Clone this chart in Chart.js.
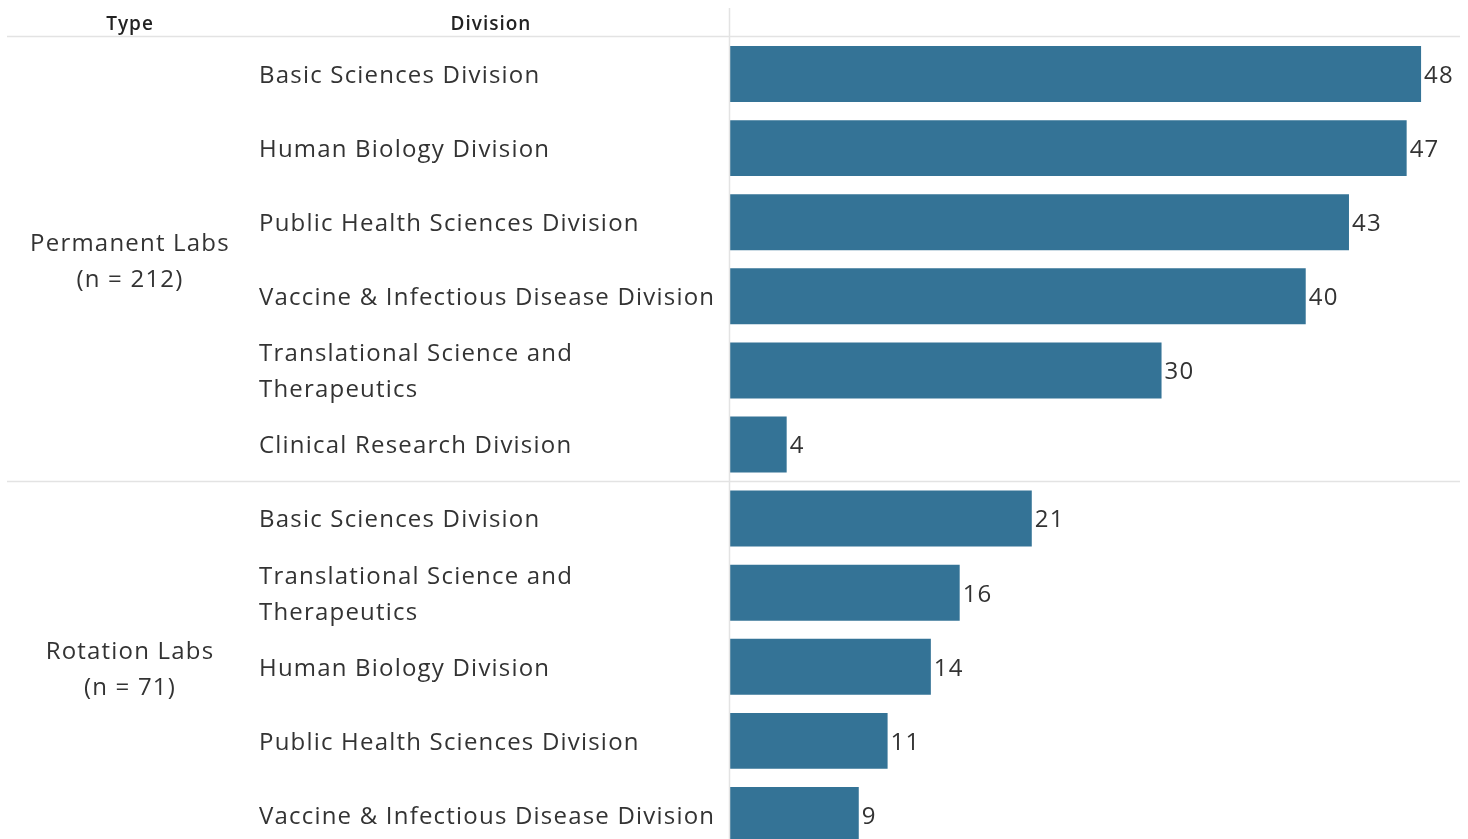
<!DOCTYPE html>
<html>
<head>
<meta charset="utf-8">
<script src="https://cdn.jsdelivr.net/npm/chart.js@4.4.1/dist/chart.umd.min.js"></script>
<style>
  html, body { margin: 0; padding: 0; background: #fff; overflow: hidden; }
  #wrap { position: relative; width: 1468px; height: 870px; }
</style>
</head>
<body>
<div id="wrap"><canvas id="grafico"></canvas></div>
<script>
// dados
const divisoes = [
  'Basic Sciences Division',
  'Human Biology Division',
  'Public Health Sciences Division',
  'Vaccine & Infectious Disease Division',
  ['Translational Science and', 'Therapeutics'],
  'Clinical Research Division',
  'Basic Sciences Division',
  ['Translational Science and', 'Therapeutics'],
  'Human Biology Division',
  'Public Health Sciences Division',
  'Vaccine & Infectious Disease Division'
];
const laboratorios = [48, 47, 43, 40, 30, 4, 21, 16, 14, 11, 9];
const grupos = [
  { linhas: ['Permanent Labs', '(n = 212)'], inicio: 0, fim: 5 },
  { linhas: ['Rotation Labs', '(n = 71)'], inicio: 6, fim: 10 }
];
const cabecalhos = ['Type', 'Division'];

const FONTE = '"Open Sans", "Noto Sans", sans-serif';
const COR_TEXTO = '#333333';
const COR_LINHA = '#e3e3e3';
const ESPACO = '1.2px';

// plugin para cabeçalho, grupos, separadores e rótulos de valor
const extras = {
  id: 'extras',
  beforeDraw(chart) {
    // espaçamento entre letras também nos rótulos do eixo
    chart.ctx.letterSpacing = ESPACO;
  },
  afterDraw(chart) {
    const { ctx, chartArea } = chart;
    const passo = (chartArea.bottom - chartArea.top) / divisoes.length;
    ctx.save();

    // linhas
    ctx.strokeStyle = COR_LINHA;
    ctx.lineWidth = 1.5;
    ctx.beginPath();
    ctx.moveTo(chartArea.left + 0.5, 8);
    ctx.lineTo(chartArea.left + 0.5, chart.height);
    ctx.moveTo(7, chartArea.top - 0.5);
    ctx.lineTo(chartArea.right, chartArea.top - 0.5);
    grupos.slice(1).forEach(g => {
      const yy = chartArea.top + g.inicio * passo;
      ctx.moveTo(7, yy);
      ctx.lineTo(chartArea.right, yy);
    });
    ctx.stroke();

    // cabeçalho
    ctx.fillStyle = '#222';
    ctx.letterSpacing = '1px';
    ctx.font = '600 19px ' + FONTE;
    ctx.textAlign = 'center';
    ctx.textBaseline = 'middle';
    ctx.fillText(cabecalhos[0], 130, 25);
    ctx.fillText(cabecalhos[1], 491, 25);

    // grupos
    ctx.letterSpacing = ESPACO;
    ctx.fillStyle = COR_TEXTO;
    ctx.font = '24px ' + FONTE;
    grupos.forEach(g => {
      const centro = chartArea.top + (g.inicio + g.fim + 1) / 2 * passo;
      const n = g.linhas.length;
      g.linhas.forEach((l, i) => {
        ctx.fillText(l, 130, centro + 3 + (i - (n - 1) / 2) * 36);
      });
    });

    // rótulos de valor
    ctx.textAlign = 'left';
    const meta = chart.getDatasetMeta(0);
    meta.data.forEach((barra, i) => {
      ctx.fillText(String(laboratorios[i]), barra.x + 3, barra.y + 2);
    });
    ctx.restore();
  }
};

new Chart(document.getElementById('grafico'), {
  type: 'bar',
  data: {
    labels: divisoes,
    datasets: [{
      data: laboratorios,
      backgroundColor: '#347396',
      borderWidth: 0,
      barPercentage: 0.755,
      categoryPercentage: 1
    }]
  },
  options: {
    indexAxis: 'y',
    responsive: true,
    maintainAspectRatio: false,
    animation: false,
    layout: { padding: { top: 37, left: 259, right: 8, bottom: 0 } },
    plugins: {
      legend: { display: false },
      tooltip: { enabled: false }
    },
    scales: {
      x: {
        display: false,
        min: 0,
        max: 50.7
      },
      y: {
        grid: { display: false },
        border: { display: false },
        afterFit(scale) { scale.width = 470; },
        ticks: {
          crossAlign: 'far',
          color: COR_TEXTO,
          font: { family: FONTE, size: 24, lineHeight: 1.5 },
          padding: 0,
          labelOffset: 2
        }
      }
    }
  },
  plugins: [extras]
});
</script>
</body>
</html>
